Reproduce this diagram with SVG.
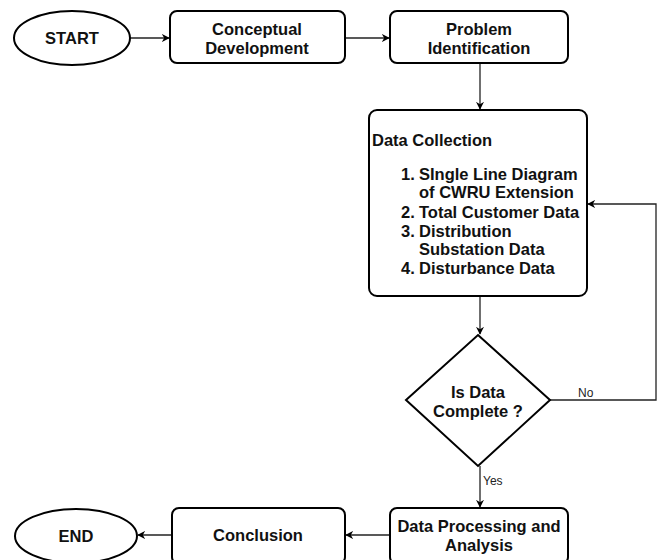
<svg xmlns="http://www.w3.org/2000/svg" width="660" height="560" viewBox="0 0 660 560">
<style>
.n{fill:#fff;stroke:#000;stroke-width:2}
.t{font-family:"Liberation Sans",Arial,sans-serif;font-weight:bold;font-size:16.5px;fill:#111}
.c{text-anchor:middle}
.e{fill:none;stroke:#222;stroke-width:1.3}
.l{font-family:"Liberation Sans",Arial,sans-serif;font-size:12px;fill:#222}
</style>
<defs>
<marker id="a" viewBox="0 0 10 10" refX="9" refY="5" markerWidth="8" markerHeight="8" markerUnits="userSpaceOnUse" orient="auto">
<path d="M0,0 L10,5 L0,10 L3,5 Z" fill="#000"/>
</marker>
</defs>
<rect width="660" height="560" fill="#fff"/>
<g id="connectors">
<line class="e" x1="130" y1="38" x2="169" y2="38" marker-end="url(#a)"/>
<line class="e" x1="345" y1="38" x2="389" y2="38" marker-end="url(#a)"/>
<line class="e" x1="480" y1="63" x2="480" y2="109" marker-end="url(#a)"/>
<line class="e" x1="480" y1="296" x2="480" y2="334" marker-end="url(#a)"/>
<polyline class="e" points="550,400 656,400 656,204 588,204" marker-end="url(#a)"/>
<text class="l" x="578" y="397">No</text>
<line class="e" x1="480" y1="466" x2="480" y2="507" marker-end="url(#a)"/>
<text class="l" x="483" y="485">Yes</text>
<line class="e" x1="390" y1="535" x2="346" y2="535" marker-end="url(#a)"/>
<line class="e" x1="172" y1="535" x2="138" y2="535" marker-end="url(#a)"/>
</g>
<g id="start">
<ellipse class="n" cx="72" cy="38" rx="58" ry="27"/>
<text class="t c" x="72" y="44">START</text>
</g>
<g id="conceptual">
<rect class="n" x="170" y="11" width="175" height="52" rx="7"/>
<text class="t c" x="257" y="35">Conceptual</text>
<text class="t c" x="257" y="54">Development</text>
</g>
<g id="problem">
<rect class="n" x="390" y="11" width="178" height="52" rx="7"/>
<text class="t c" x="479" y="35">Problem</text>
<text class="t c" x="479" y="54">Identification</text>
</g>
<g id="datacollection">
<rect class="n" x="369" y="110" width="218" height="186" rx="8"/>
<text class="t" x="372" y="146">Data Collection</text>
<text class="t" x="401" y="180">1.</text>
<text class="t" x="419" y="180">SIngle Line Diagram</text>
<text class="t" x="419" y="198">of CWRU Extension</text>
<text class="t" x="401" y="218">2.</text>
<text class="t" x="419" y="218">Total Customer Data</text>
<text class="t" x="401" y="237">3.</text>
<text class="t" x="419" y="237">Distribution</text>
<text class="t" x="419" y="255">Substation Data</text>
<text class="t" x="401" y="274">4.</text>
<text class="t" x="419" y="274">Disturbance Data</text>
</g>
<g id="decision">
<polygon class="n" points="478,335 550,400 478,466 406,400"/>
<text class="t c" x="478" y="398">Is Data</text>
<text class="t c" x="478" y="417">Complete ?</text>
</g>
<g id="processing">
<rect class="n" x="390" y="508" width="178" height="56" rx="7"/>
<text class="t c" x="479" y="532">Data Processing and</text>
<text class="t c" x="479" y="551">Analysis</text>
</g>
<g id="conclusion">
<rect class="n" x="172" y="508" width="173" height="56" rx="7"/>
<text class="t c" x="258" y="541">Conclusion</text>
</g>
<g id="end">
<ellipse class="n" cx="76" cy="536" rx="61" ry="27"/>
<text class="t c" x="76" y="542">END</text>
</g>
</svg>
